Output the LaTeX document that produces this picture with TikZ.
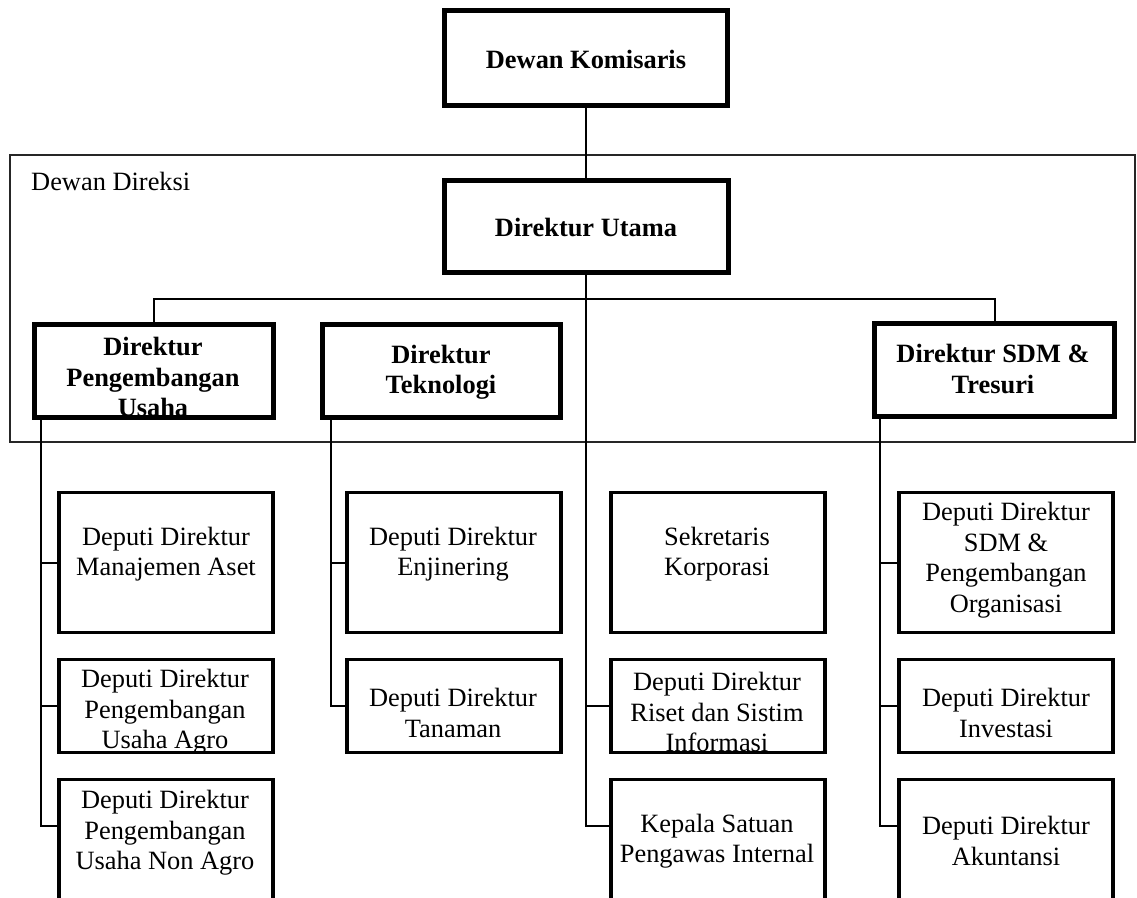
\documentclass[tikz,border=0pt]{standalone}
\usepackage{fontspec}
\setmainfont{Liberation Serif}
\usetikzlibrary{calc}
\begin{document}
\begin{tikzpicture}[x=1pt,y=-1pt,
  bigbox/.style={draw=black,line width=5pt,rectangle,inner sep=0pt,outer sep=0pt},
  smallbox/.style={draw=black,line width=3.4pt,rectangle,inner sep=0pt,outer sep=0pt,minimum width=214pt},
  lbl/.style={align=center,inner sep=0pt,font=\fontsize{26.4}{30.5}\selectfont},
  blbl/.style={align=center,inner sep=0pt,font=\fontsize{26.4}{30.5}\selectfont\bfseries},
  conn/.style={draw=black,line width=2pt},
  frame/.style={draw=black!85,line width=2pt,rectangle,inner sep=0pt,outer sep=0pt}]
\useasboundingbox (0,0) rectangle (1137,897);
\clip (0,0) rectangle (1137,897);
\fill[white] (0,0) rectangle (1137,897);

% board of directors frame
\node[frame,minimum width=1125pt,minimum height=287pt] (direksi) at (572.5,298.5) {};
\node[lbl,anchor=base west] (direksiT) at (31,190) {Dewan Direksi};

% top level
\node[bigbox,minimum width=283pt,minimum height=95pt] (dk) at (586,58) {};
\node[blbl] (dkT) at (586,59) {Dewan Komisaris};
\node[bigbox,minimum width=284pt,minimum height=92pt] (du) at (586,226.5) {};
\node[blbl] (duT) at (586,227) {Direktur Utama};

% directors
\node[bigbox,minimum width=239pt,minimum height=93pt] (dpu) at (154,371) {};
\node[blbl] (dpuT) at (153,377) {Direktur\\Pengembangan\\Usaha};
\node[bigbox,minimum width=238pt,minimum height=93pt] (dtek) at (441.5,371) {};
\node[blbl] (dtekT) at (441,372) {Direktur\\Teknologi};
\node[bigbox,minimum width=240pt,minimum height=93pt] (dsdm) at (994.5,370) {};
\node[blbl] (dsdmT) at (993,369) {Direktur SDM \&\\Tresuri};

% deputies, column 1
\node[smallbox,minimum height=139.5pt] (a1) at (166,562.5) {};
\node[lbl] (a1T) at (166,554) {Deputi Direktur\\Manajemen Aset};
\node[smallbox,minimum height=92.5pt] (a2) at (166,706) {};
\node[lbl] (a2T) at (165,712) {Deputi Direktur\\Pengembangan\\Usaha Agro};
\node[smallbox,minimum height=139.5pt] (a3) at (166,849.5) {};
\node[lbl] (a3T) at (165,833) {Deputi Direktur\\Pengembangan\\Usaha Non Agro};

% column 2
\node[smallbox,minimum height=139.5pt] (b1) at (454,562.5) {};
\node[lbl] (b1T) at (453,554) {Deputi Direktur\\Enjinering};
\node[smallbox,minimum height=92.5pt] (b2) at (454,706) {};
\node[lbl] (b2T) at (453,713) {Deputi Direktur\\Tanaman};

% column 3
\node[smallbox,minimum height=139.5pt] (c1) at (718,562.5) {};
\node[lbl] (c1T) at (717,554) {Sekretaris\\Korporasi};
\node[smallbox,minimum height=92.5pt] (c2) at (718,706) {};
\node[lbl] (c2T) at (717,712) {Deputi Direktur\\Riset dan Sistim\\Informasi};
\node[smallbox,minimum height=139.5pt] (c3) at (718,849.5) {};
\node[lbl] (c3T) at (717,841) {Kepala Satuan\\Pengawas Internal};

% column 4
\node[smallbox,minimum height=139.5pt] (d1) at (1006,562.5) {};
\node[lbl] (d1T) at (1006,560) {Deputi Direktur\\SDM \&\\Pengembangan\\Organisasi};
\node[smallbox,minimum height=92.5pt] (d2) at (1006,706) {};
\node[lbl] (d2T) at (1006,713) {Deputi Direktur\\Investasi};
\node[smallbox,minimum height=139.5pt] (d3) at (1006,849.5) {};
\node[lbl] (d3T) at (1006,841) {Deputi Direktur\\Akuntansi};

% trunk positions and branch levels
\coordinate (bus) at (586,299);
\coordinate (k1) at (41,0);
\coordinate (k2) at (331,0);
\coordinate (k4) at (880,0);
\coordinate (r3) at (0,826);

% connectors
\draw[conn] (dk.south) -- (du.north);
\draw[conn] (dpu.north) -- (dpu.north |- bus) -- (dsdm.north |- bus) -- (dsdm.north);
\draw[conn] (du.south) -- (du.south |- r3) -- (c3.west |- r3);
\draw[conn] (du.south |- c2.west) -- (c2.west);

\draw[conn] (dpu.south -| k1) -- (k1 |- r3) -- (a3.west |- r3);
\draw[conn] (k1 |- a1.west) -- (a1.west);
\draw[conn] (k1 |- a2.west) -- (a2.west);

\draw[conn] (dtek.south -| k2) -- (k2 |- b2.west) -- (b2.west);
\draw[conn] (k2 |- b1.west) -- (b1.west);

\draw[conn] (dsdm.south -| k4) -- (k4 |- r3) -- (d3.west |- r3);
\draw[conn] (k4 |- d1.west) -- (d1.west);
\draw[conn] (k4 |- d2.west) -- (d2.west);
\end{tikzpicture}
\end{document}
